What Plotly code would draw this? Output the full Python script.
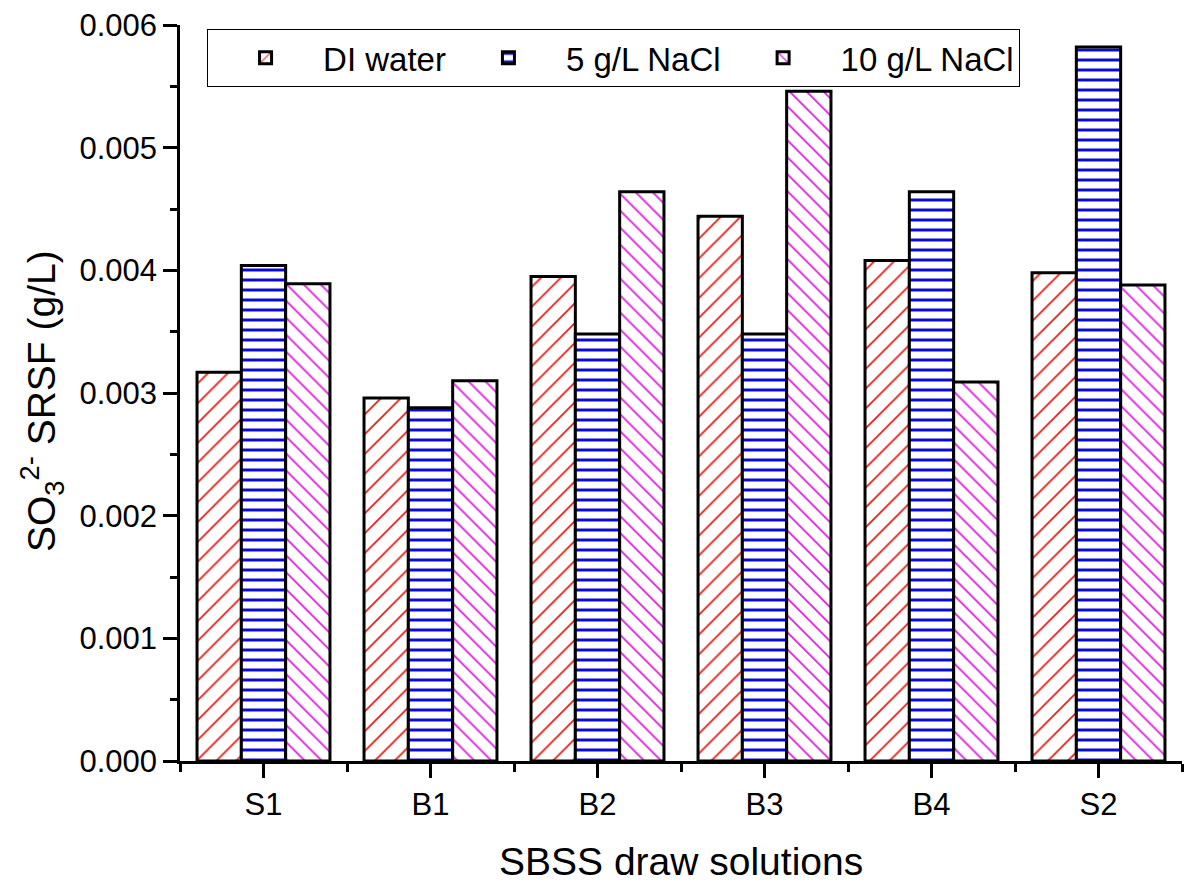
import plotly.graph_objects as go

categories = ["S1", "B1", "B2", "B3", "B4", "S2"]
series_names = ["DI water", "5 g/L NaCl", "10 g/L NaCl"]
di_water = [0.00317, 0.00296, 0.00395, 0.00444, 0.00408, 0.00398]
nacl_5 = [0.00404, 0.00288, 0.00348, 0.00348, 0.00464, 0.00582]
nacl_10 = [0.00389, 0.00310, 0.00464, 0.00546, 0.00309, 0.00388]
y_ticks = [0.000, 0.001, 0.002, 0.003, 0.004, 0.005, 0.006]

FONT = "Arial, Liberation Sans, sans-serif"
xpos = list(range(len(categories)))

styles = [
    dict(shape="/", fg="#e8201a", size=14, sol=0.13),
    dict(shape="-", fg="#0a0ad6", size=10, sol=0.3),
    dict(shape="\\", fg="#e020e0", size=12, sol=0.15),
]

fig = go.Figure()
for name, vals, st in zip(series_names, [di_water, nacl_5, nacl_10], styles):
    fig.add_trace(go.Bar(
        x=xpos, y=vals, name=name,
        marker=dict(
            color="white",
            line=dict(color="black", width=3),
            pattern=dict(shape=st["shape"], fgcolor=st["fg"], bgcolor="white",
                         fgopacity=1, size=st["size"], solidity=st["sol"],
                         fillmode="overlay"),
        ),
    ))

fig.update_layout(
    width=1187, height=883,
    margin=dict(l=180, r=5, t=25, b=122, autoexpand=False),
    paper_bgcolor="white", plot_bgcolor="white",
    barmode="group", bargap=0.204, bargroupgap=0,
    font=dict(family=FONT, size=31, color="black"),
    showlegend=True,
    legend=dict(
        orientation="h", x=0.027, y=0.995, xanchor="left", yanchor="top",
        bordercolor="black", borderwidth=1, bgcolor="white",
        font=dict(family=FONT, size=33, color="black"),
        itemwidth=105, tracegroupgap=0,
    ),
    xaxis=dict(
        range=[-0.5, 5.5], tickmode="array", tickvals=xpos, ticktext=categories,
        showline=True, linecolor="black", linewidth=2.5, mirror=False,
        ticks="outside", ticklen=14, tickwidth=2.5, tickcolor="black",
        showgrid=False, zeroline=False,
        tickfont=dict(family=FONT, size=31),
        minor=dict(tickmode="array", tickvals=[p - 0.5 for p in xpos] + [xpos[-1] + 0.5],
                   ticks="outside", ticklen=8, tickwidth=2.5, tickcolor="black", showgrid=False),
    ),
    yaxis=dict(
        range=[0, 0.006], tickmode="array", tickvals=y_ticks,
        ticktext=[f"{v:.3f}" for v in y_ticks],
        showline=True, linecolor="black", linewidth=2.5, mirror=False,
        ticks="outside", ticklen=14, tickwidth=2.5, tickcolor="black",
        showgrid=False, zeroline=False,
        tickfont=dict(family=FONT, size=31),
        minor=dict(tickmode="linear", tick0=0.0005, dtick=0.001,
                   ticks="outside", ticklen=7, tickwidth=2.5, tickcolor="black", showgrid=False),
    ),
)

fig.add_annotation(
    text="SO<sub>3</sub><sup>2-</sup> SRSF (g/L)", textangle=-90,
    xref="paper", yref="paper", x=0, y=0.5, xanchor="center", yanchor="middle",
    xshift=-138, yshift=-8, showarrow=False,
    font=dict(family=FONT, size=39, color="black"),
)
fig.add_annotation(
    text="SBSS draw solutions",
    xref="paper", yref="paper", x=0.5, y=0, xanchor="center", yanchor="middle",
    yshift=-100, showarrow=False,
    font=dict(family=FONT, size=39, color="black"),
)

fig.write_html("out.html", config={"displayModeBar": False},
               post_script="document.body.style.margin='0';")
